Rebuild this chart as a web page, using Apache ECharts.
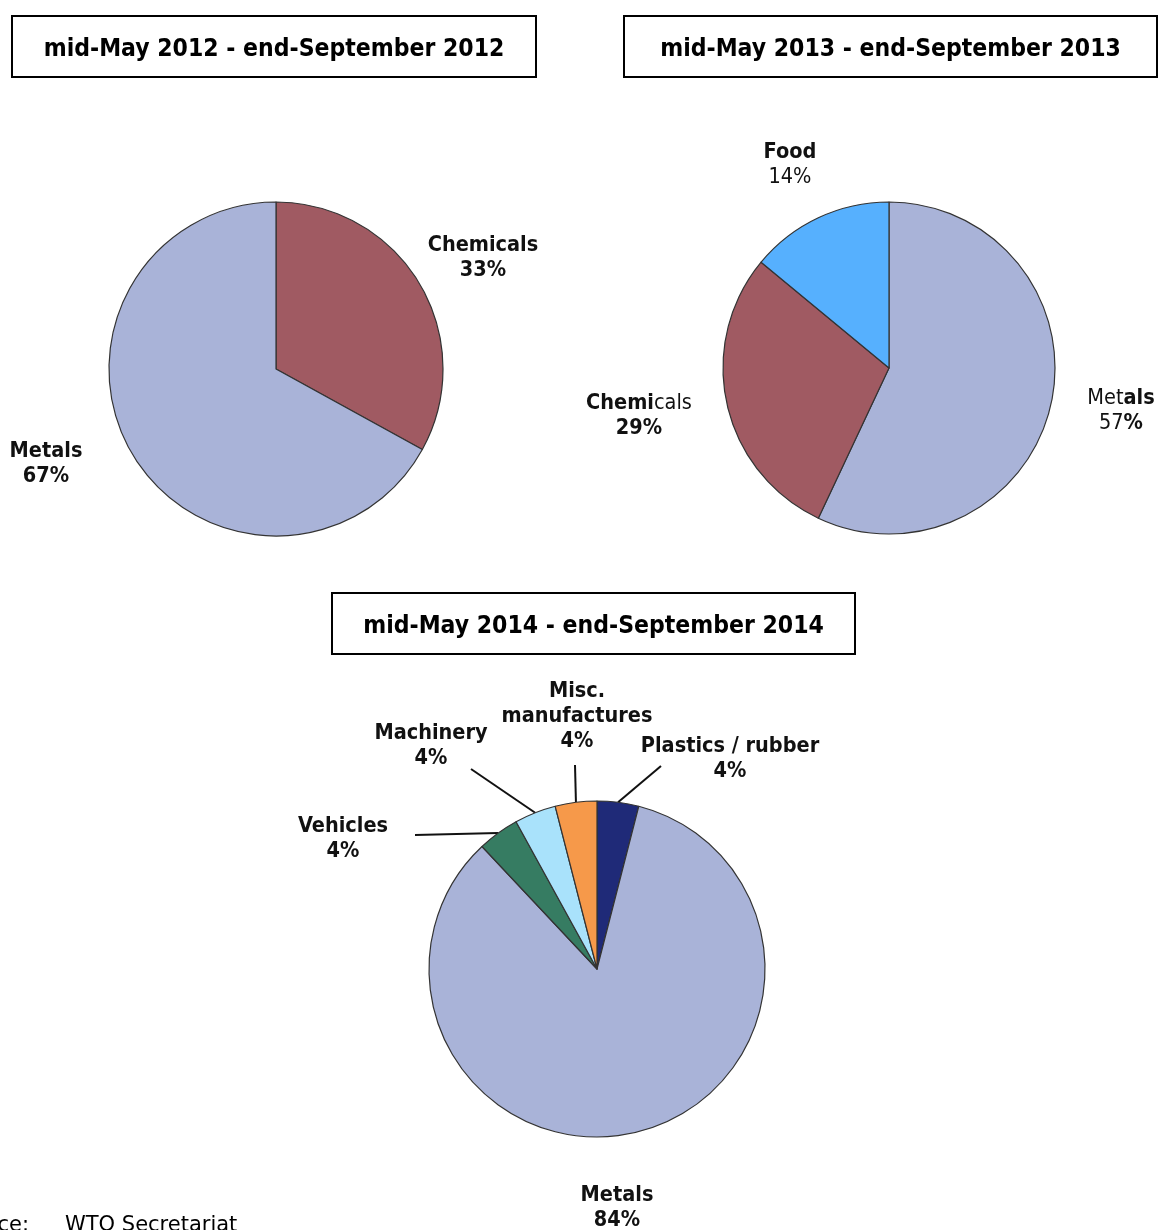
<!DOCTYPE html>
<html>
<head>
<meta charset="utf-8">
<script src="https://cdn.jsdelivr.net/npm/echarts@6/dist/echarts.min.js"></script>
<style>
html,body{margin:0;padding:0;background:#fff;}
#chart{width:1160px;height:1230px;}
</style>
</head>
<body>
<div id="chart"></div>
<script>
// ---- data ----
const periodTitles = ['mid-May 2012 - end-September 2012', 'mid-May 2013 - end-September 2013', 'mid-May 2014 - end-September 2014'];
const names2012 = ['Chemicals', 'Metals'];
const values2012 = [33, 67];
const names2013 = ['Metals', 'Chemicals', 'Food'];
const values2013 = [57, 29, 14];
const names2014 = ['Plastics / rubber', 'Metals', 'Vehicles', 'Machinery', 'Misc.\nmanufactures'];
const values2014 = [4, 84, 4, 4, 4];
const sourceLabel = 'Source:';
const sourceText = 'WTO Secretariat';

// ---- styles ----
const colorMap = {
  'Metals': '#A9B3D8',
  'Chemicals': '#A05A62',
  'Food': '#56B0FE',
  'Vehicles': '#367C62',
  'Machinery': '#A9E2FB',
  'Misc.\nmanufactures': '#F6994A',
  'Plastics / rubber': '#1F2A78'
};
const FONT = "'DejaVu Sans Condensed', 'DejaVu Sans', sans-serif";
const LBL = 21.5;

function mk(names, values, extra) {
  return names.map((n, i) => Object.assign({
    name: n, value: values[i], itemStyle: { color: colorMap[n] }
  }, extra ? extra(n, i) : {}));
}

const rich = {
  b: { fontFamily: FONT, fontWeight: 'bold', fontSize: LBL, color: '#111', lineHeight: 25 },
  n: { fontFamily: FONT, fontWeight: 'normal', fontSize: LBL, color: '#111', lineHeight: 25 }
};

const pos2012 = [[483, 258], [46, 464]];
const pos2013 = [[1121, 411], [639, 416], [790, 165]];
const pos2014 = [[730, 759], [617, 1208], [343, 839], [431, 746], [577, 716]];
const lineEnd2014 = [[661, 766], null, [415, 835], [471, 769], [575, 765]];

function boldFmt(p) {
  return p.name.split('\n').map(s => '{b|' + s + '}').join('\n') + '\n{b|' + p.value + '%}';
}
function fmt2013(p) {
  const n = p.name;
  if (p.dataIndex === 0) return '{n|' + n.slice(0, 3) + '}{b|' + n.slice(3) + '}\n{n|' + p.value + '}{b|%}';
  if (p.dataIndex === 1) return '{b|' + n.slice(0, 5) + '}{n|' + n.slice(5) + '}\n{b|' + p.value + '%}';
  return '{b|' + n + '}\n{n|' + p.value + '%}';
}

const baseSeries = {
  type: 'pie',
  startAngle: 90,
  clockwise: true,
  avoidLabelOverlap: false,
  animation: false,
  emphasis: { disabled: true },
  itemStyle: { borderColor: '#333', borderWidth: 1.2 },
};

function boxGraphic(x, y, w, h, text) {
  return {
    type: 'group', children: [
      { type: 'rect', shape: { x: x, y: y, width: w, height: h }, style: { fill: '#fff', stroke: '#000', lineWidth: 2 } },
      { type: 'text', style: { text: text, x: x + w / 2, y: y + h / 2 + 3, align: 'center', verticalAlign: 'middle', font: "bold 24.5px " + FONT, fill: '#000' } }
    ]
  };
}

const option = {
  backgroundColor: '#fff',
  animation: false,
  graphic: [
    boxGraphic(12, 16, 524, 61, periodTitles[0]),
    boxGraphic(624, 16, 533, 61, periodTitles[1]),
    boxGraphic(332, 593, 523, 61, periodTitles[2]),
    { type: 'text', style: { text: sourceLabel, x: 29, y: 1215, align: 'right', font: "21px 'DejaVu Sans', sans-serif", fill: '#000' } },
    { type: 'text', style: { text: sourceText, x: 65, y: 1215, align: 'left', font: "21px 'DejaVu Sans', sans-serif", fill: '#000' } }
  ],
  series: [
    Object.assign({}, baseSeries, {
      center: [276, 369], radius: 167,
      data: mk(names2012, values2012),
      label: { show: true, position: 'outside', formatter: boldFmt, rich: rich },
      labelLine: { show: false },
      labelLayout: p => ({ x: pos2012[p.dataIndex][0], y: pos2012[p.dataIndex][1], align: 'center', verticalAlign: 'middle' })
    }),
    Object.assign({}, baseSeries, {
      center: [889, 368], radius: 166,
      data: mk(names2013, values2013),
      label: { show: true, position: 'outside', formatter: fmt2013, rich: rich },
      labelLine: { show: false },
      labelLayout: p => ({ x: pos2013[p.dataIndex][0], y: pos2013[p.dataIndex][1], align: 'center', verticalAlign: 'middle' })
    }),
    Object.assign({}, baseSeries, {
      center: [597, 969], radius: 168,
      data: mk(names2014, values2014, (n, i) => n === 'Metals' ? { labelLine: { show: false } } : {}),
      label: { show: true, position: 'outside', formatter: boldFmt, rich: rich },
      labelLine: { show: true, length: 30, length2: 0, smooth: false, lineStyle: { color: '#111', width: 2 } },
      labelLayout: p => {
        const r = { x: pos2014[p.dataIndex][0], y: pos2014[p.dataIndex][1], align: 'center', verticalAlign: 'middle' };
        const e = lineEnd2014[p.dataIndex];
        if (e && p.labelLinePoints) r.labelLinePoints = [p.labelLinePoints[0], e, e];
        return r;
      }
    })
  ]
};

const chart = echarts.init(document.getElementById('chart'), null, { renderer: 'canvas' });
chart.setOption(option);
</script>
</body>
</html>
